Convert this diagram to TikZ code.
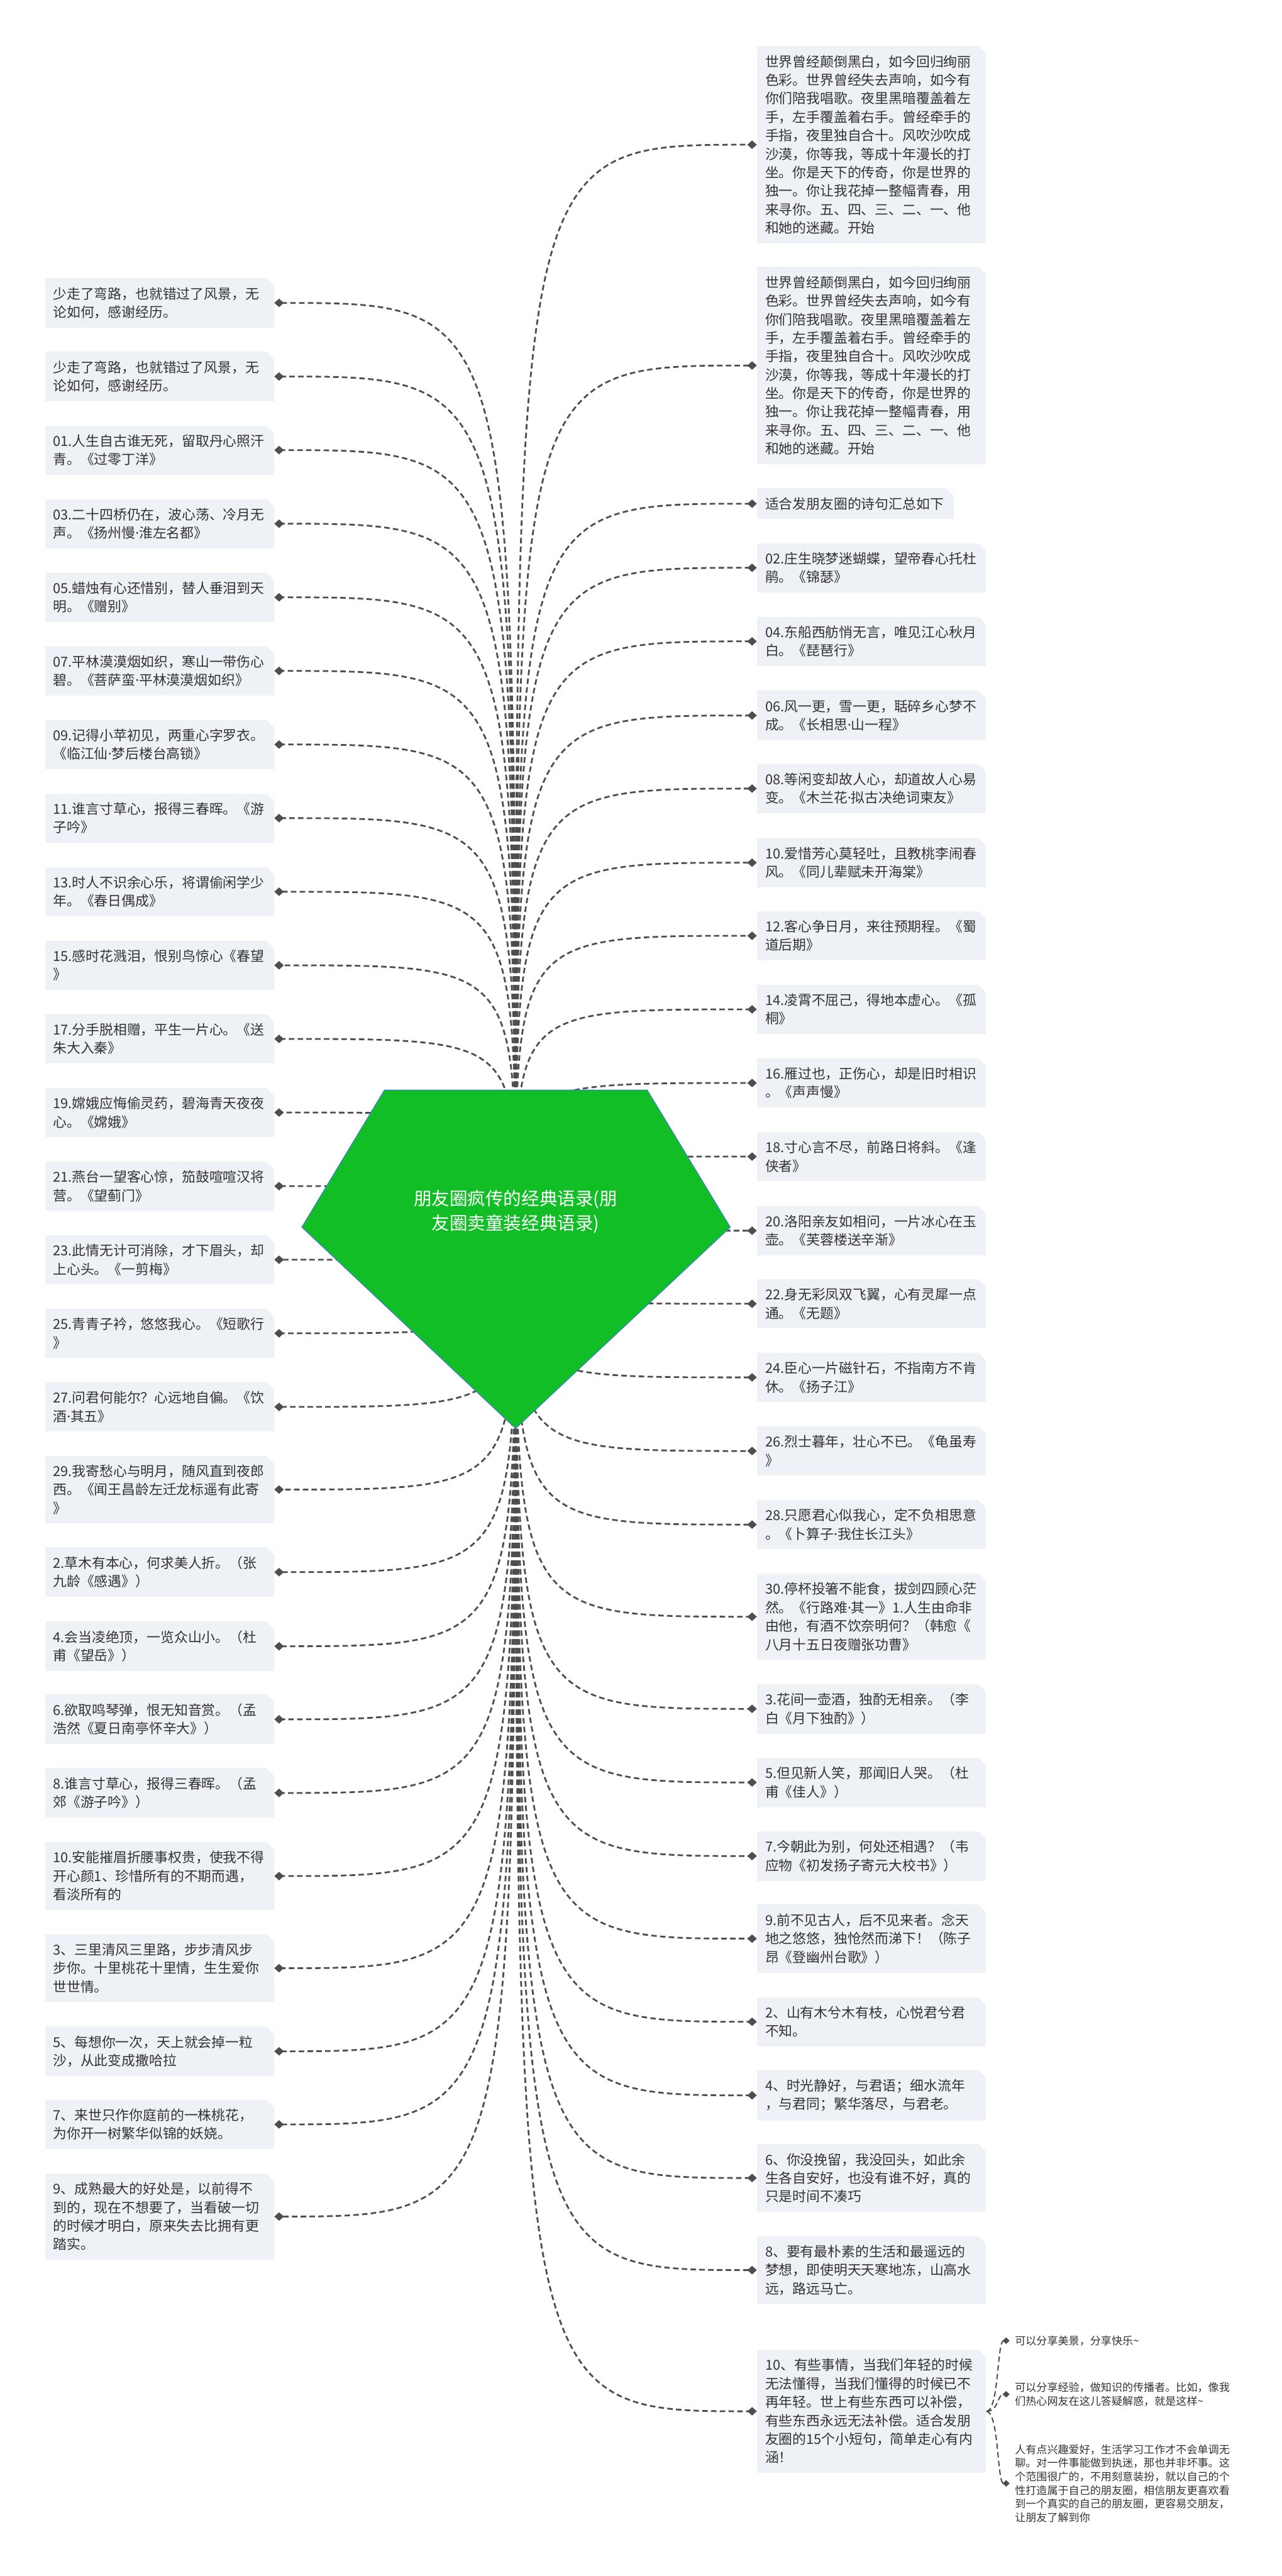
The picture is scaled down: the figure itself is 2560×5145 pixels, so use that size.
\documentclass[tikz,border=0pt]{standalone}
\usepackage{fontspec}
\setmainfont{Noto Sans CJK SC}
\newfontfamily\latinfont{Noto Sans}
\newcommand{\mdot}{{\latinfont\char"00B7}}
\definecolor{cardgray}{RGB}{238,241,245}
\definecolor{inkgray}{RGB}{51,51,51}
\definecolor{linkgray}{RGB}{78,78,78}
\definecolor{rootgreen}{RGB}{18,190,38}
\definecolor{rootedge}{RGB}{60,130,200}
\usetikzlibrary{arrows.meta,calc}

\begin{document}
\begin{tikzpicture}[
  x=0.01cm, y=-0.01cm,
  card/.style={fill=cardgray,text=inkgray,font=\fontsize{7.8pt}{10.5pt}\selectfont,
    text width=4.25cm,align=left,inner xsep=0.16cm,inner ysep=0.18cm,
    path picture={\fill[white] ([xshift=-0.15cm]path picture bounding box.north east)
      -- (path picture bounding box.north east) -- ([yshift=-0.15cm]path picture bounding box.north east) -- cycle;}},
  lcard/.style={card,anchor=east},
  rcard/.style={card,anchor=west},
  note/.style={text=inkgray,font=\fontsize{6.1pt}{7.7pt}\selectfont,align=left,
    anchor=west,inner xsep=0.1cm,inner ysep=0.03cm},
  link/.style={draw=linkgray,line width=0.035cm,dash pattern=on 0.11cm off 0.065cm,
    -{Diamond[length=0.19cm,width=0.17cm]}},
  sublink/.style={link,line width=0.025cm,-{Diamond[length=0.14cm,width=0.13cm]}}
]
  \fill[white] (0,0) rectangle (2560,5145);
  \coordinate (hub) at (1030,2451);

  % left column
  \node[lcard] (L1) at (548,605) {少走了弯路，也就错过了风景，无\\论如何，感谢经历。};
  \node[lcard] (L2) at (548,752) {少走了弯路，也就错过了风景，无\\论如何，感谢经历。};
  \node[lcard] (L3) at (548,899) {01.人生自古谁无死，留取丹心照汗\\青。《过零丁洋》};
  \node[lcard] (L4) at (548,1046) {03.二十四桥仍在，波心荡、冷月无\\声。《扬州慢\mdot 淮左名都》};
  \node[lcard] (L5) at (548,1193) {05.蜡烛有心还惜别，替人垂泪到天\\明。《赠别》};
  \node[lcard] (L6) at (548,1340) {07.平林漠漠烟如织，寒山一带伤心\\碧。《菩萨蛮\mdot 平林漠漠烟如织》};
  \node[lcard] (L7) at (548,1487) {09.记得小苹初见，两重心字罗衣。\\《临江仙\mdot 梦后楼台高锁》};
  \node[lcard] (L8) at (548,1634) {11.谁言寸草心，报得三春晖。《游\\子吟》};
  \node[lcard] (L9) at (548,1781) {13.时人不识余心乐，将谓偷闲学少\\年。《春日偶成》};
  \node[lcard] (L10) at (548,1928) {15.感时花溅泪，恨别鸟惊心《春望\\》};
  \node[lcard] (L11) at (548,2075) {17.分手脱相赠，平生一片心。《送\\朱大入秦》};
  \node[lcard] (L12) at (548,2222) {19.嫦娥应悔偷灵药，碧海青天夜夜\\心。《嫦娥》};
  \node[lcard] (L13) at (548,2369) {21.燕台一望客心惊，笳鼓喧喧汉将\\营。《望蓟门》};
  \node[lcard] (L14) at (548,2516) {23.此情无计可消除，才下眉头，却\\上心头。《一剪梅》};
  \node[lcard] (L15) at (548,2663) {25.青青子衿，悠悠我心。《短歌行\\》};
  \node[lcard] (L16) at (548,2810) {27.问君何能尔？心远地自偏。《饮\\酒\mdot 其五》};
  \node[lcard] (L17) at (548,2975) {29.我寄愁心与明月，随风直到夜郎\\西。《闻王昌龄左迁龙标遥有此寄\\》};
  \node[lcard] (L18) at (548,3140) {2.草木有本心，何求美人折。（张\\九龄《感遇》）};
  \node[lcard] (L19) at (548,3288) {4.会当凌绝顶，一览众山小。（杜\\甫《望岳》）};
  \node[lcard] (L20) at (548,3434) {6.欲取鸣琴弹，恨无知音赏。（孟\\浩然《夏日南亭怀辛大》）};
  \node[lcard] (L21) at (548,3581) {8.谁言寸草心，报得三春晖。（孟\\郊《游子吟》）};
  \node[lcard] (L22) at (548,3747) {10.安能摧眉折腰事权贵，使我不得\\开心颜1、珍惜所有的不期而遇，\\看淡所有的};
  \node[lcard] (L23) at (548,3931) {3、三里清风三里路，步步清风步\\步你。十里桃花十里情，生生爱你\\世世情。};
  \node[lcard] (L24) at (548,4097) {5、每想你一次，天上就会掉一粒\\沙，从此变成撒哈拉};
  \node[lcard] (L25) at (548,4243) {7、来世只作你庭前的一株桃花，\\为你开一树繁华似锦的妖娆。};
  \node[lcard] (L26) at (548,4427) {9、成熟最大的好处是，以前得不\\到的，现在不想要了，当看破一切\\的时候才明白，原来失去比拥有更\\踏实。};

  % right column
  \node[rcard] (R1) at (1512,289) {世界曾经颠倒黑白，如今回归绚丽\\色彩。世界曾经失去声响，如今有\\你们陪我唱歌。夜里黑暗覆盖着左\\手，左手覆盖着右手。曾经牵手的\\手指，夜里独自合十。风吹沙吹成\\沙漠，你等我，等成十年漫长的打\\坐。你是天下的传奇，你是世界的\\独一。你让我花掉一整幅青春，用\\来寻你。五、四、三、二、一、他\\和她的迷藏。开始};
  \node[rcard] (R2) at (1512,730) {世界曾经颠倒黑白，如今回归绚丽\\色彩。世界曾经失去声响，如今有\\你们陪我唱歌。夜里黑暗覆盖着左\\手，左手覆盖着右手。曾经牵手的\\手指，夜里独自合十。风吹沙吹成\\沙漠，你等我，等成十年漫长的打\\坐。你是天下的传奇，你是世界的\\独一。你让我花掉一整幅青春，用\\来寻你。五、四、三、二、一、他\\和她的迷藏。开始};
  \node[rcard,text width=3.6cm] (R3) at (1512,1006) {适合发朋友圈的诗句汇总如下};
  \node[rcard] (R4) at (1512,1134) {02.庄生晓梦迷蝴蝶，望帝春心托杜\\鹃。《锦瑟》};
  \node[rcard] (R5) at (1512,1281) {04.东船西舫悄无言，唯见江心秋月\\白。《琵琶行》};
  \node[rcard] (R6) at (1512,1429) {06.风一更，雪一更，聒碎乡心梦不\\成。《长相思\mdot 山一程》};
  \node[rcard] (R7) at (1512,1575) {08.等闲变却故人心，却道故人心易\\变。《木兰花\mdot 拟古决绝词柬友》};
  \node[rcard] (R8) at (1512,1723) {10.爱惜芳心莫轻吐，且教桃李闹春\\风。《同儿辈赋未开海棠》};
  \node[rcard] (R9) at (1512,1869) {12.客心争日月，来往预期程。《蜀\\道后期》};
  \node[rcard] (R10) at (1512,2016) {14.凌霄不屈己，得地本虚心。《孤\\桐》};
  \node[rcard] (R11) at (1512,2163) {16.雁过也，正伤心，却是旧时相识\\。《声声慢》};
  \node[rcard] (R12) at (1512,2310) {18.寸心言不尽，前路日将斜。《逢\\侠者》};
  \node[rcard] (R13) at (1512,2458) {20.洛阳亲友如相问，一片冰心在玉\\壶。《芙蓉楼送辛渐》};
  \node[rcard] (R14) at (1512,2604) {22.身无彩凤双飞翼，心有灵犀一点\\通。《无题》};
  \node[rcard] (R15) at (1512,2751) {24.臣心一片磁针石，不指南方不肯\\休。《扬子江》};
  \node[rcard] (R16) at (1512,2898) {26.烈士暮年，壮心不已。《龟虽寿\\》};
  \node[rcard] (R17) at (1512,3045) {28.只愿君心似我心，定不负相思意\\。《卜算子\mdot 我住长江头》};
  \node[rcard] (R18) at (1512,3229) {30.停杯投箸不能食，拔剑四顾心茫\\然。《行路难\mdot 其一》1.人生由命非\\由他，有酒不饮奈明何？（韩愈《\\八月十五日夜赠张功曹》};
  \node[rcard] (R19) at (1512,3413) {3.花间一壶酒，独酌无相亲。（李\\白《月下独酌》）};
  \node[rcard] (R20) at (1512,3560) {5.但见新人笑，那闻旧人哭。（杜\\甫《佳人》）};
  \node[rcard] (R21) at (1512,3707) {7.今朝此为别，何处还相遇？（韦\\应物《初发扬子寄元大校书》）};
  \node[rcard] (R22) at (1512,3872) {9.前不见古人，后不见来者。念天\\地之悠悠，独怆然而涕下！（陈子\\昂《登幽州台歌》）};
  \node[rcard] (R23) at (1512,4038) {2、山有木兮木有枝，心悦君兮君\\不知。};
  \node[rcard] (R24) at (1512,4185) {4、时光静好，与君语；细水流年\\，与君同；繁华落尽，与君老。};
  \node[rcard] (R25) at (1512,4350) {6、你没挽留，我没回头，如此余\\生各自安好，也没有谁不好，真的\\只是时间不凑巧};
  \node[rcard] (R26) at (1512,4534) {8、要有最朴素的生活和最遥远的\\梦想，即使明天天寒地冻，山高水\\远，路远马亡。};
  \node[rcard] (R27) at (1512,4816) {10、有些事情，当我们年轻的时候\\无法懂得，当我们懂得的时候已不\\再年轻。世上有些东西可以补偿，\\有些东西永远无法补偿。适合发朋\\友圈的15个小短句，简单走心有内\\涵！};

  % notes under item 10
  \node[note] (S1) at (2017,4675) {可以分享美景，分享快乐\textasciitilde};
  \node[note] (S2) at (2017,4782) {可以分享经验，做知识的传播者。比如，像我\\们热心网友在这儿答疑解惑，就是这样\textasciitilde};
  \node[note] (S3) at (2017,4960) {人有点兴趣爱好，生活学习工作才不会单调无\\聊。对一件事能做到执迷，那也并非坏事。这\\个范围很广的，不用刻意装扮，就以自己的个\\性打造属于自己的朋友圈，相信朋友更喜欢看\\到一个真实的自己的朋友圈，更容易交朋友，\\让朋友了解到你};

  % connectors
  \foreach \i in {1,...,26}
    \draw[link] (hub) .. controls (hub |- L\i.east) .. (L\i.east);
  \foreach \i in {1,...,27}
    \draw[link] (hub) .. controls (hub |- R\i.west) .. (R\i.west);
  \foreach \i in {1,2,3}
    \draw[sublink] (R27.east) .. controls +(25,0) and +(-25,0) .. (S\i.west);

  % centre gem
  \filldraw[fill=rootgreen,draw=rootedge,line width=0.015cm]
    (768,2177) -- (1293,2177) -- (1459,2451) -- (1030,2853) -- (603,2451) -- cycle;
  \node[text=white,font=\fontsize{10.2pt}{13.7pt}\selectfont,align=center] (root) at (1030,2420)
    {朋友圈疯传的经典语录(朋\\友圈卖童装经典语录)};
\end{tikzpicture}
\end{document}
